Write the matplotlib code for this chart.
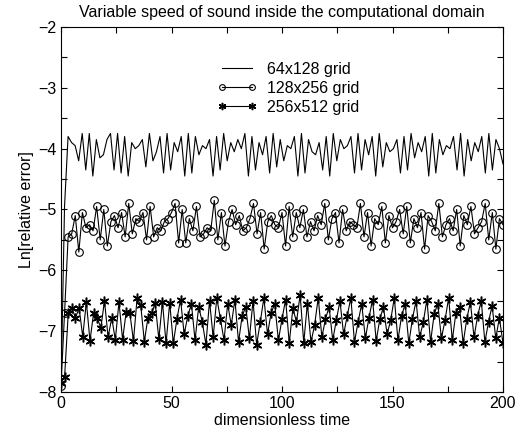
import numpy as np
import matplotlib
matplotlib.use("Agg")
import matplotlib.pyplot as plt
from matplotlib.ticker import MultipleLocator

# ln(relative error), evenly spaced in time over 0..200
err_64 = [
    -7.95, -4.95, -3.80, -3.90, -3.95, -4.20, -3.75, -4.35, -3.75, -4.45,
    -3.85, -4.15, -4.10, -3.85, -3.75, -4.35, -3.75, -4.40, -3.80, -4.45,
    -3.90, -4.00, -3.95, -3.85, -4.30, -3.75, -4.20, -4.05, -3.80, -4.40,
    -3.75, -4.35, -3.90, -4.05, -3.80, -4.45, -3.75, -4.40, -3.80, -4.10,
    -3.95, -4.00, -3.85, -4.45, -3.80, -4.35, -3.75, -4.20, -3.90, -4.05,
    -3.85, -4.00, -3.75, -4.45, -3.80, -4.35, -3.90, -4.10, -3.80, -4.40,
    -3.75, -4.30, -3.85, -4.20, -3.95, -4.00, -3.80, -4.45, -3.75, -4.40,
    -3.85, -4.05, -4.10, -3.90, -4.35, -3.80, -4.45, -3.75, -4.20, -3.85,
    -4.00, -3.95, -3.80, -4.40, -3.75, -4.35, -3.85, -4.10, -3.80, -4.45,
    -3.75, -4.30, -3.90, -4.05, -4.00, -3.85, -4.40, -3.80, -4.35, -3.75,
    -4.15, -3.90, -4.05, -3.80, -4.45, -3.75, -4.40, -3.85, -4.10, -3.95,
    -4.00, -3.80, -4.35, -3.75, -4.45, -3.85, -4.20, -3.90, -4.05, -3.80,
    -4.40, -3.75, -4.35, -3.85, -4.00, -4.25,
]
err_128 = [
    -7.90, -6.70, -5.45, -5.40, -5.10, -5.70, -5.05, -5.30, -5.25, -5.35,
    -4.95, -5.50, -5.00, -5.60, -5.20, -5.10, -5.30, -5.05, -5.45, -4.90,
    -5.40, -5.15, -5.20, -5.05, -5.50, -4.95, -5.45, -5.30, -5.35, -5.20,
    -5.15, -5.05, -4.90, -5.55, -5.00, -5.55, -5.15, -5.35, -4.95, -5.45,
    -5.40, -5.30, -5.35, -4.85, -5.50, -5.05, -5.60, -5.20, -5.00, -5.25,
    -5.10, -5.35, -5.30, -5.15, -4.90, -5.40, -5.05, -5.65, -5.20, -5.10,
    -5.25, -5.30, -5.05, -5.60, -4.95, -5.45, -5.05, -5.30, -5.00, -5.45,
    -5.20, -5.35, -5.10, -5.25, -4.90, -5.50, -5.15, -5.05, -5.55, -5.00,
    -5.35, -5.20, -5.25, -5.30, -4.90, -5.45, -5.05, -5.60, -5.15, -5.25,
    -4.95, -5.55, -5.10, -5.30, -5.20, -5.00, -5.40, -4.95, -5.55, -5.15,
    -5.30, -5.05, -5.65, -5.10, -5.20, -5.35, -4.90, -5.45, -5.25, -5.15,
    -5.35, -5.00, -5.60, -5.10, -5.25, -4.95, -5.40, -5.30, -5.20, -4.90,
    -5.50, -5.05, -5.65, -5.15, -5.25,
]
err_256 = [
    -7.85, -7.75, -6.70, -6.62, -6.78, -6.62, -7.09, -6.52, -7.16, -6.70,
    -6.78, -6.95, -6.50, -7.10, -6.78, -7.14, -6.52, -7.14, -6.68, -6.70,
    -7.16, -6.46, -6.57, -7.17, -6.78, -6.70, -6.54, -7.13, -6.52, -7.20,
    -6.53, -7.20, -6.80, -6.48, -7.05, -6.75, -6.55, -7.15, -6.60, -6.85,
    -7.22, -6.50, -7.10, -6.45, -6.80, -7.15, -6.55, -6.90, -6.48, -7.18,
    -6.75, -6.60, -7.12, -6.50, -7.22, -6.85, -6.45, -7.05, -6.70, -6.55,
    -7.15, -6.80, -6.48, -7.20, -6.62, -6.85, -6.40, -7.19, -6.55, -7.18,
    -6.90, -6.45, -7.10, -6.80, -6.60, -7.15, -6.82, -6.50, -7.05, -6.75,
    -6.45, -7.18, -6.85, -6.55, -7.12, -6.78, -6.48, -7.16, -6.80, -6.60,
    -7.05, -6.82, -6.45, -7.15, -6.75, -6.55, -7.20, -6.80, -6.50, -7.10,
    -6.85, -6.48, -7.18, -6.72, -6.55, -7.12, -6.82, -6.45, -7.15, -6.70,
    -6.60, -7.20, -6.80, -6.52, -7.10, -6.75, -6.50, -7.18, -6.85, -6.58,
    -7.12, -6.78, -7.20,
]
labels = ["64x128 grid", "128x256 grid", "256x512 grid"]
t_end = 200

plt.rcParams["font.family"] = ["Liberation Sans", "DejaVu Sans"]
plt.rcParams["font.size"] = 11.5

fig = plt.figure(figsize=(5.16, 4.40), dpi=100)
ax = fig.add_axes([61 / 516, 1 - 392 / 440, 442 / 516, 365 / 440])

def times(vals):
    return np.linspace(0, t_end, len(vals))

ax.plot(times(err_64), err_64, color="black", lw=0.8, label=labels[0])
ax.plot(times(err_128), err_128, color="black", lw=0.8, marker="o", ms=5.5,
        mfc="none", mec="black", mew=0.8, label=labels[1])
ax.plot(times(err_256), err_256, color="black", lw=0.8, marker=(6, 2, 0), ms=7,
        mec="black", mew=1.1, label=labels[2])

ax.set_xlim(0, 200)
ax.set_ylim(-8, -2)
ax.xaxis.set_major_locator(MultipleLocator(50))
ax.xaxis.set_minor_locator(MultipleLocator(25))
ax.yaxis.set_major_locator(MultipleLocator(1))
ax.yaxis.set_minor_locator(MultipleLocator(0.5))
ax.tick_params(which="both", direction="in", top=True, right=True, length=4, width=0.8, pad=3)
for s in ax.spines.values():
    s.set_linewidth(0.8)

ax.set_xlabel("dimensionless time", labelpad=1)
ax.set_ylabel("Ln[relative error]", labelpad=3)
ax.set_title("Variable speed of sound inside the computational domain", fontsize=11.5, pad=7)

ax.legend(loc="upper left", bbox_to_anchor=(217 / 516, 1 - 62 / 440),
          bbox_transform=fig.transFigure, frameon=False, numpoints=2,
          handlelength=2.5, handletextpad=0.6, labelspacing=0.25,
          borderpad=0, borderaxespad=0, markerscale=0.75)

fig.savefig("out.png", dpi=100)
